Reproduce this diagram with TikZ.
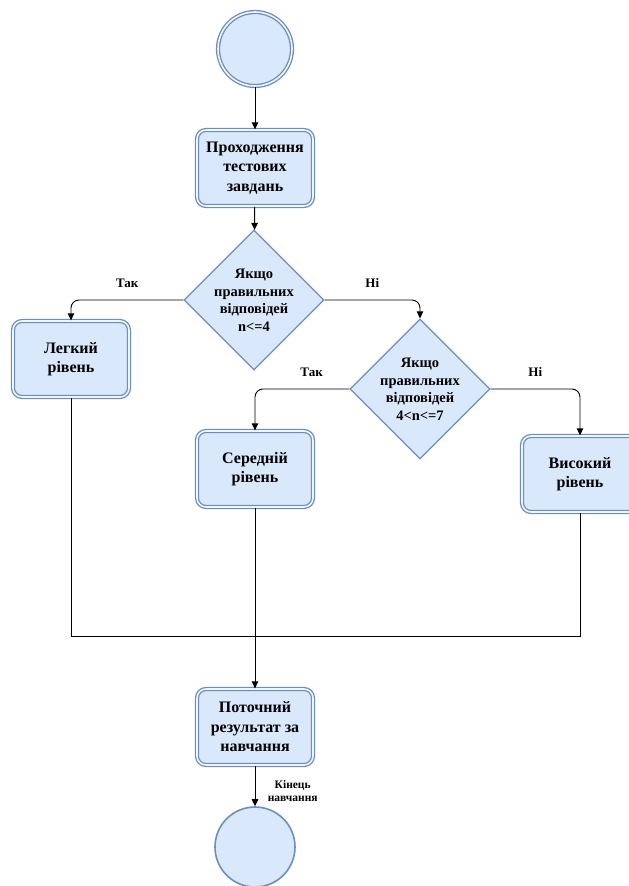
\documentclass[tikz,border=0pt]{standalone}
\usepackage{fontspec}
\setmainfont{Liberation Serif}
\usetikzlibrary{arrows.meta,shapes.geometric}
\definecolor{nodefill}{HTML}{DAE8FC}
\definecolor{nodeline}{HTML}{6C8EBF}

\begin{document}
\begin{tikzpicture}[
  x=1pt,y=-1pt,
  font=\bfseries\fontsize{16}{19.5}\selectfont,
  act/.style={rectangle,rounded corners=9pt,fill=nodefill,draw=nodeline,line width=1.3pt,
              double=nodefill!40!white,double distance=1.6pt,
              minimum width=116pt,minimum height=76pt,align=center,inner sep=2pt},
  cond/.style={diamond,fill=nodefill,draw=nodeline,line width=1.2pt,aspect=1,
               minimum width=140pt,minimum height=140pt,inner sep=-8pt,align=center,
               font=\bfseries\fontsize{14.5}{17.5}\selectfont},
  startc/.style={circle,fill=nodefill,draw=nodeline,line width=1.3pt,
                 double=nodefill!40!white,double distance=1.6pt,minimum size=74pt},
  endc/.style={circle,fill=nodefill,draw=nodeline,line width=1.6pt,minimum size=80pt},
  ar/.style={-{Triangle[length=7pt,width=6.5pt]},line width=0.9pt},
  lbl/.style={font=\bfseries\fontsize{13}{15}\selectfont}
]
\useasboundingbox (0,0) rectangle (629,886);
% main column
\node[startc] (start)  at (255,49)  {};
\node[act]    (task)   at (255,168) {Проходження\\тестових\\завдань};
\node[cond]   (q1)     at (254,300) {Якщо\\правильних\\відповідей\\n<=4};
\node[act]    (easy)   at (71,359)  {Легкий\\рівень};
\node[cond]   (q2)     at (420,389) {Якщо\\правильних\\відповідей\\4<n<=7};
\node[act]    (mid)    at (255,469) {Середній\\рівень};
\node[act]    (high)   at (580,474) {Високий\\рівень};
\node[act]    (result) at (255,727) {Поточний\\результат за\\навчання};
\node[endc]   (finish) at (255,847) {};
\coordinate (joinL) at (71,636);

\draw[ar] (start) -- (task);
\draw[ar] (task) -- (q1);
\draw[ar,rounded corners=8pt] (q1.west) -| node[lbl,pos=0.25,above=9pt]{Так} (easy.north);
\draw[ar,rounded corners=8pt] (q1.east) -| node[lbl,pos=0.25,above=9pt]{Ні} (q2.north);
\draw[ar,rounded corners=8pt] (q2.west) -| node[lbl,pos=0.2,above=9pt]{Так} (mid.north);
\draw[ar,rounded corners=8pt] (q2.east) -| node[lbl,pos=0.25,above=9pt]{Ні} (high.north);
% joining lines
\draw[line width=0.9pt] (easy.south) -- (joinL) -| (high.south);
\draw[ar] (mid.south) -- (result.north);
\draw[ar] (result) -- node[right=9pt,yshift=-5pt,font=\bfseries\fontsize{11.5}{13}\selectfont,align=center]{Кінець\\навчання} (finish);
\end{tikzpicture}
\end{document}
